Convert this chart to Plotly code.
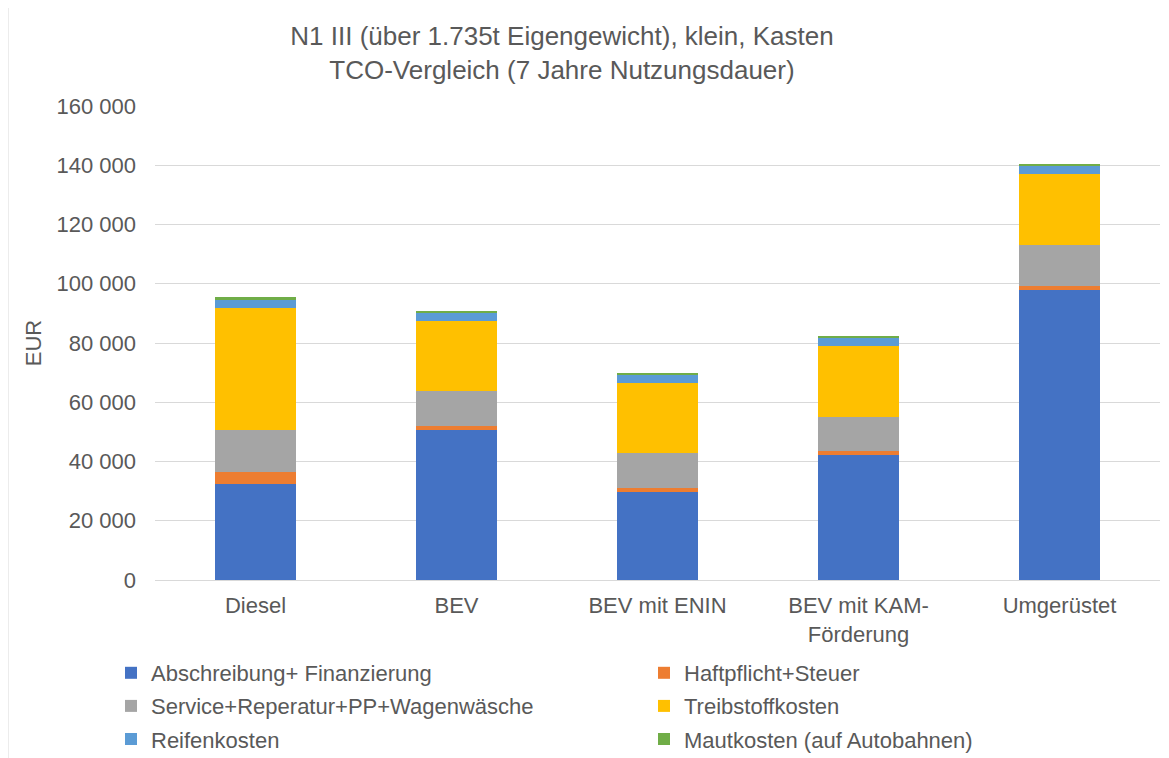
import plotly.graph_objects as go

categories = ["Diesel", "BEV", "BEV mit ENIN", "BEV mit KAM-<br>Förderung", "Umgerüstet"]
abschreibung = [32500, 50700, 29800, 42200, 98000]
haftpflicht = [4100, 1300, 1400, 1200, 1300]
service = [14000, 11700, 11700, 11700, 13900]
treibstoff = [41200, 23600, 23700, 23800, 23700]
reifen = [3000, 2900, 2500, 2900, 2900]
maut = [600, 700, 800, 700, 700]

series = [
    ("Abschreibung+ Finanzierung", abschreibung, "#4472C4", "legend"),
    ("Haftpflicht+Steuer", haftpflicht, "#ED7D31", "legend2"),
    ("Service+Reperatur+PP+Wagenwäsche", service, "#A5A5A5", "legend"),
    ("Treibstoffkosten", treibstoff, "#FFC000", "legend2"),
    ("Reifenkosten", reifen, "#5B9BD5", "legend"),
    ("Mautkosten (auf Autobahnen)", maut, "#70AD47", "legend2"),
]

FONT = "Liberation Sans, Arial, sans-serif"
TXT = "#595959"

fig = go.Figure()
for i, (name, vals, color, lg) in enumerate(series):
    fig.add_trace(go.Bar(
        x=categories, y=vals, name=name,
        marker=dict(color=color, line=dict(width=0)),
        legend=lg, legendgroup=f"g{i}",
    ))

# page has an 8px body margin; work in figure coordinates
W, H = 1161, 750
L, T = 147, 98
pw, ph = 1005, 474
R, B = W - L - pw, H - T - ph

def px_x(p):
    return (p - L) / pw

def px_y(p):
    return (T + ph - p) / ph

legend_common = dict(
    orientation="v", yanchor="top", xanchor="left",
    font=dict(family=FONT, size=22, color=TXT),
    bgcolor="rgba(0,0,0,0)", tracegroupgap=1.5, itemclick=False,
)

fig.update_layout(
    width=W, height=H,
    margin=dict(l=L, r=R, t=T, b=B, autoexpand=False),
    paper_bgcolor="white", plot_bgcolor="white",
    barmode="stack", bargap=0.6,
    separators=". ",
    font=dict(family=FONT, color=TXT),
    title=dict(
        text="N1 III (über 1.735t Eigengewicht), klein, Kasten<br>TCO-Vergleich (7 Jahre Nutzungsdauer)",
        x=554 / W, xanchor="center", y=1 - 37 / H, yanchor="top",
        font=dict(family=FONT, size=26, color=TXT),
    ),
    xaxis=dict(
        tickfont=dict(family=FONT, size=22, color=TXT),
        showgrid=False, showline=True, linecolor="#D9D9D9", linewidth=1,
        ticks="", ticklabelstandoff=6,
    ),
    yaxis=dict(
        range=[0, 160000], dtick=20000, tickformat=",d",
        tickfont=dict(family=FONT, size=22, color=TXT),
        gridcolor="#D9D9D9", gridwidth=1, zeroline=False,
        showline=False, ticks="", ticklabelstandoff=18,
        title=dict(text="EUR", font=dict(family=FONT, size=22, color=TXT), standoff=8),
    ),
    legend=dict(x=px_x(103), y=px_y(644), **legend_common),
    legend2=dict(x=px_x(636), y=px_y(644), **legend_common),
    shapes=[dict(
        type="rect", xref="paper", yref="paper",
        x0=px_x(0), x1=px_x(1200), y0=px_y(800), y1=px_y(-1),
        line=dict(color="#D9D9D9", width=1), fillcolor="rgba(0,0,0,0)", layer="below",
    )],
)

fig.write_html("out.html")
